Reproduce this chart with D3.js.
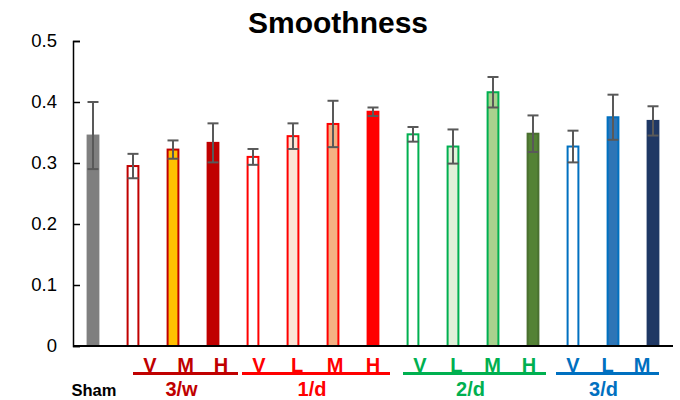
<!DOCTYPE html>
<html>
<head>
<meta charset="utf-8">
<script src="https://cdn.jsdelivr.net/npm/d3@7"></script>
<style>
  html, body { margin: 0; padding: 0; background: #fff; }
  svg { display: block; font-family: Arial, "Liberation Sans", sans-serif; }
</style>
</head>
<body>
<svg id="chart" width="680" height="400"></svg>
<script>
// Bar labels, groups and values
const categories = ["Sham", "3w-V", "3w-M", "3w-H", "1d-V", "1d-L", "1d-M", "1d-H",
                    "2d-V", "2d-L", "2d-M", "2d-H", "3d-V", "3d-L", "3d-M"];
const doseLabels = ["", "V", "M", "H", "V", "L", "M", "H", "V", "L", "M", "H", "V", "L", "M"];
const groupOf    = ["Sham", "3/w", "3/w", "3/w", "1/d", "1/d", "1/d", "1/d",
                    "2/d", "2/d", "2/d", "2/d", "3/d", "3/d", "3/d"];
const means  = [0.345, 0.295, 0.322, 0.333, 0.310, 0.344, 0.364, 0.384,
                0.347, 0.327, 0.416, 0.348, 0.327, 0.375, 0.369];
const errors = [0.055, 0.020, 0.015, 0.032, 0.013, 0.021, 0.038, 0.007,
                0.012, 0.028, 0.025, 0.030, 0.026, 0.037, 0.024];
const fills   = ["#7f7f7f", "#ffffff", "#ffc000", "#c00000", "#ffffff", "#fbe5d6", "#f4b183", "#ff0000",
                 "#ffffff", "#e2f0d9", "#a9d18e", "#548235", "#ffffff", "#2e75b6", "#203864"];
const strokes = ["#7f7f7f", "#c00000", "#c00000", "#c00000", "#ff0000", "#ff0000", "#ff0000", "#ff0000",
                 "#00b050", "#00b050", "#00b050", "#4a7030", "#0070c0", "#0070c0", "#1f3864"];
const groups      = ["3/w", "1/d", "2/d", "3/d"];
const groupColors = ["#c00000", "#ff0000", "#00b050", "#0070c0"];
const yTicks = [0, 0.1, 0.2, 0.3, 0.4, 0.5];

const svg = d3.select("#chart");
const margin = { left: 73, right: 7, top: 41, bottom: 54 };
const W = 680, H = 400;

const x = d3.scaleBand().domain(categories)
  .range([margin.left, W - margin.right]).paddingInner(0.68).paddingOuter(0.34);
const y = d3.scaleLinear().domain([0, 0.5]).range([H - margin.bottom, margin.top]);

// Title
svg.append("text").attr("x", 338).attr("y", 33).attr("text-anchor", "middle")
  .attr("font-size", 30).attr("font-weight", "bold").attr("fill", "#000").text("Smoothness");

// Y axis with inward ticks
const yAxis = svg.append("g").attr("transform", `translate(${margin.left},0)`)
  .call(d3.axisLeft(y).tickValues(yTicks).tickSize(-7).tickPadding(16)
        .tickFormat(d => d === 0 ? "0" : d3.format(".1f")(d)));
yAxis.select(".domain").attr("stroke", "#000").attr("stroke-width", 1.5);
yAxis.selectAll(".tick line").attr("stroke", "#000").attr("stroke-width", 1.5);
yAxis.selectAll(".tick text").attr("font-size", 18.5).attr("fill", "#000")
  .attr("font-family", "Arial, 'Liberation Sans', sans-serif");

// Bars
const bw = x.bandwidth();
svg.append("g").selectAll("rect").data(categories).join("rect")
  .attr("x", d => x(d) + 1)
  .attr("y", (d, i) => y(means[i]))
  .attr("width", bw - 2)
  .attr("height", (d, i) => y(0) - y(means[i]))
  .attr("fill", (d, i) => fills[i])
  .attr("stroke", (d, i) => strokes[i])
  .attr("stroke-width", 2);

// Error bars
const eb = svg.append("g").attr("stroke", "#595959").attr("stroke-width", 2);
categories.forEach((c, i) => {
  const cx = x(c) + bw / 2;
  const top = y(means[i] + errors[i]), bot = y(means[i] - errors[i]);
  eb.append("line").attr("x1", cx).attr("x2", cx).attr("y1", top).attr("y2", bot);
  eb.append("line").attr("x1", cx - 5.5).attr("x2", cx + 5.5).attr("y1", top).attr("y2", top);
  eb.append("line").attr("x1", cx - 5.5).attr("x2", cx + 5.5).attr("y1", bot).attr("y2", bot);
});

// X axis baseline
svg.append("line").attr("x1", margin.left).attr("x2", W - margin.right)
  .attr("y1", y(0)).attr("y2", y(0)).attr("stroke", "#000").attr("stroke-width", 2);

// Group labels: dose letters spread along an underline, group name beneath
const labels = svg.append("g").attr("font-weight", "bold").attr("text-anchor", "middle");
const lineExt = { "3/w": [0, 25], "1/d": [-11, 17], "2/d": [-10, 13], "3/d": [-17, 6] };
groups.forEach((g, gi) => {
  const idx = categories.map((c, i) => i).filter(i => groupOf[i] === g);
  const first = x(categories[idx[0]]) + bw / 2;
  const last = x(categories[idx[idx.length - 1]]) + bw / 2;
  const x0 = first + lineExt[g][0], x1 = last + lineExt[g][1];
  const col = groupColors[gi];
  labels.append("line").attr("x1", x0).attr("x2", x1).attr("y1", 373.5).attr("y2", 373.5)
    .attr("stroke", col).attr("stroke-width", 3);
  const step = (x1 - x0 - 34) / (idx.length - 1);
  idx.forEach((i, k) => {
    labels.append("text").attr("x", x0 + 17 + k * step).attr("y", 371.5)
      .attr("font-size", 20).attr("fill", col).text(doseLabels[i]);
  });
  labels.append("text").attr("x", (x0 + x1) / 2 - 4).attr("y", 396)
    .attr("font-size", 20).attr("fill", col).text(g);
});
labels.append("text").attr("x", x(categories[0]) + bw / 2 + 1).attr("y", 395.5)
  .attr("font-size", 16.5).attr("fill", "#000").text("Sham");
</script>
</body>
</html>
